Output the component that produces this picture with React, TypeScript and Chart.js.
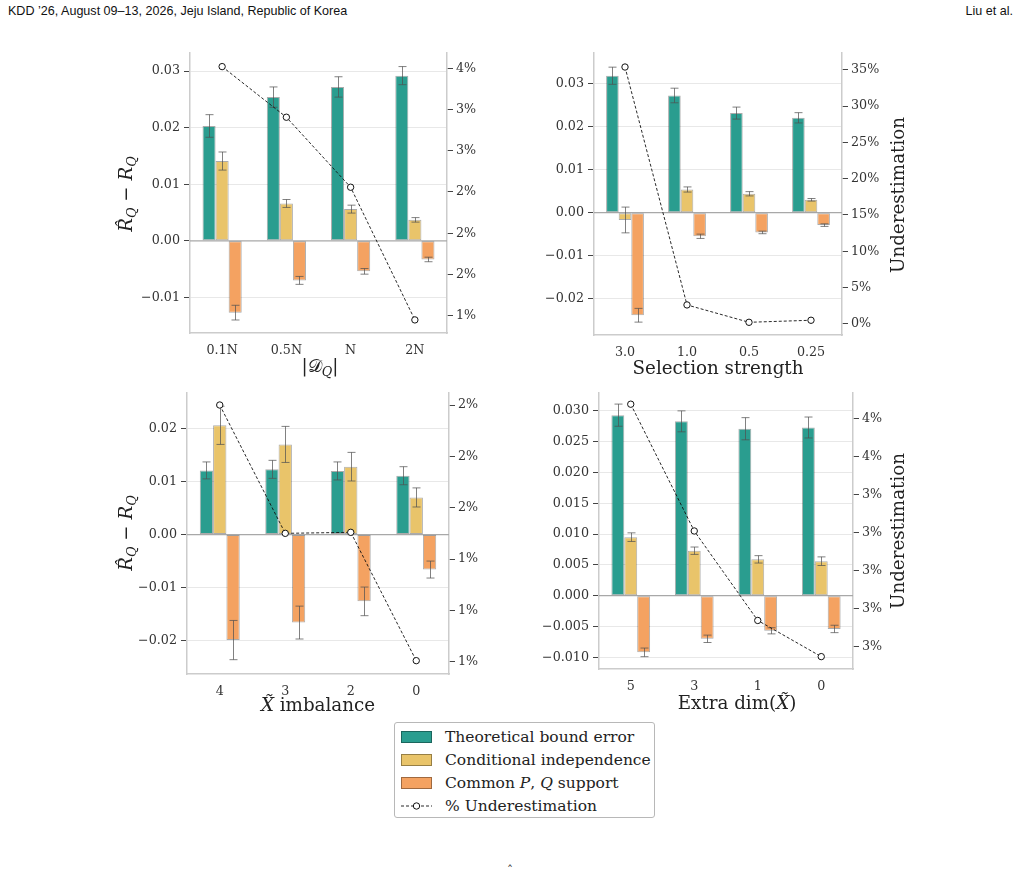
import React, { useEffect, useRef } from "react";
import { Chart, registerables } from "chart.js";

Chart.register(...registerables);

const FONT = "'DejaVu Serif', serif";
const SERIES_NAMES = ["Theoretical bound error", "Conditional independence", "Common P, Q support"];
const SERIES_COLORS = ["#2a9d8f", "#e9c46a", "#f4a261"];

// ---- Panel 1: |D_Q|
const p1Categories = ["0.1N", "0.5N", "N", "2N"];
const p1Theoretical = [0.0203, 0.0254, 0.0272, 0.0292];
const p1TheoreticalErr = [0.002, 0.0018, 0.0018, 0.0016];
const p1CondIndep = [0.0141, 0.0066, 0.0056, 0.0037];
const p1CondIndepErr = [0.0016, 0.0007, 0.0007, 0.0004];
const p1Support = [-0.0127, -0.007, -0.0054, -0.0033];
const p1SupportErr = [0.0013, 0.0007, 0.0005, 0.0004];
const p1Under = [3.616, 3.125, 2.446, 1.159];
const p1LeftTicks = [-0.01, 0, 0.01, 0.02, 0.03];
const p1LeftLabels = ["−0.01", "0.00", "0.01", "0.02", "0.03"];
const p1RightTicks = [1.2, 1.6, 2.0, 2.4, 2.8, 3.2, 3.6];
const p1RightLabels = ["1%", "2%", "2%", "2%", "3%", "3%", "4%"];

// ---- Panel 2: Selection strength
const p2Categories = ["3.0", "1.0", "0.5", "0.25"];
const p2Theoretical = [0.0319, 0.0273, 0.0232, 0.0221];
const p2TheoreticalErr = [0.002, 0.0017, 0.0014, 0.0012];
const p2CondIndep = [-0.0017, 0.0054, 0.0044, 0.003];
const p2CondIndepErr = [0.003, 0.0006, 0.0005, 0.0003];
const p2Support = [-0.0239, -0.0055, -0.0046, -0.0029];
const p2SupportErr = [0.0016, 0.0005, 0.0003, 0.0003];
const p2Under = [35.37, 2.62, 0.23, 0.51];
const p2LeftTicks = [-0.02, -0.01, 0, 0.01, 0.02, 0.03];
const p2LeftLabels = ["−0.02", "−0.01", "0.00", "0.01", "0.02", "0.03"];
const p2RightTicks = [0, 5, 10, 15, 20, 25, 30, 35];
const p2RightLabels = ["0%", "5%", "10%", "15%", "20%", "25%", "30%", "35%"];

// ---- Panel 3: X~ imbalance
const p3Categories = ["4", "3", "2", "0"];
const p3Theoretical = [0.0121, 0.0123, 0.012, 0.0111];
const p3TheoreticalErr = [0.0016, 0.0017, 0.0017, 0.0017];
const p3CondIndep = [0.0206, 0.017, 0.0128, 0.007];
const p3CondIndepErr = [0.0036, 0.0034, 0.0027, 0.0018];
const p3Support = [-0.0199, -0.0166, -0.0126, -0.0066];
const p3SupportErr = [0.0037, 0.0031, 0.0027, 0.0016];
const p3Under = [1.7, 1.45, 1.452, 1.202];
const p3LeftTicks = [-0.02, -0.01, 0, 0.01, 0.02];
const p3LeftLabels = ["−0.02", "−0.01", "0.00", "0.01", "0.02"];
const p3RightTicks = [1.2, 1.3, 1.4, 1.5, 1.6, 1.7];
const p3RightLabels = ["1%", "1%", "1%", "2%", "2%", "2%"];

// ---- Panel 4: Extra dim(X~)
const p4Categories = ["5", "3", "1", "0"];
const p4Theoretical = [0.0293, 0.0283, 0.0271, 0.0273];
const p4TheoreticalErr = [0.0018, 0.0017, 0.0018, 0.0017];
const p4CondIndep = [0.0095, 0.0073, 0.0059, 0.0056];
const p4CondIndepErr = [0.0007, 0.0006, 0.0006, 0.0007];
const p4Support = [-0.0092, -0.007, -0.0057, -0.0054];
const p4SupportErr = [0.0007, 0.0006, 0.0005, 0.0006];
const p4Under = [3.637, 3.304, 3.069, 2.974];
const p4LeftTicks = [-0.01, -0.005, 0, 0.005, 0.01, 0.015, 0.02, 0.025, 0.03];
const p4LeftLabels = ["−0.010", "−0.005", "0.000", "0.005", "0.010", "0.015", "0.020", "0.025", "0.030"];
const p4RightTicks = [3.0, 3.1, 3.2, 3.3, 3.4, 3.5, 3.6];
const p4RightLabels = ["3%", "3%", "3%", "3%", "3%", "4%", "4%"];

type PanelSpec = {
  area: { l: number; t: number; r: number; b: number };
  categories: string[];
  bars: number[][];
  errs: number[][];
  under: number[];
  leftRange: [number, number];
  rightRange: [number, number];
  leftTicks: number[];
  leftLabels: string[];
  rightTicks: number[];
  rightLabels: string[];
};

const PANELS: PanelSpec[] = [
  {
    area: { l: 190, t: 53, r: 447, b: 333 },
    categories: p1Categories,
    bars: [p1Theoretical, p1CondIndep, p1Support],
    errs: [p1TheoreticalErr, p1CondIndepErr, p1SupportErr],
    under: p1Under,
    leftRange: [-0.0163, 0.0332],
    rightRange: [1.032, 3.748],
    leftTicks: p1LeftTicks,
    leftLabels: p1LeftLabels,
    rightTicks: p1RightTicks,
    rightLabels: p1RightLabels,
  },
  {
    area: { l: 594, t: 53, r: 842, b: 335 },
    categories: p2Categories,
    bars: [p2Theoretical, p2CondIndep, p2Support],
    errs: [p2TheoreticalErr, p2CondIndepErr, p2SupportErr],
    under: p2Under,
    leftRange: [-0.0285, 0.0372],
    rightRange: [-1.52, 37.3],
    leftTicks: p2LeftTicks,
    leftLabels: p2LeftLabels,
    rightTicks: p2RightTicks,
    rightLabels: p2RightLabels,
  },
  {
    area: { l: 187, t: 393, r: 449, b: 674 },
    categories: p3Categories,
    bars: [p3Theoretical, p3CondIndep, p3Support],
    errs: [p3TheoreticalErr, p3CondIndepErr, p3SupportErr],
    under: p3Under,
    leftRange: [-0.0263, 0.0267],
    rightRange: [1.176, 1.7234],
    leftTicks: p3LeftTicks,
    leftLabels: p3LeftLabels,
    rightTicks: p3RightTicks,
    rightLabels: p3RightLabels,
  },
  {
    area: { l: 599, t: 393, r: 853, b: 669 },
    categories: p4Categories,
    bars: [p4Theoretical, p4CondIndep, p4Support],
    errs: [p4TheoreticalErr, p4CondIndepErr, p4SupportErr],
    under: p4Under,
    leftRange: [-0.0119, 0.0329],
    rightRange: [2.9415, 3.6664],
    leftTicks: p4LeftTicks,
    leftLabels: p4LeftLabels,
    rightTicks: p4RightTicks,
    rightLabels: p4RightLabels,
  },
];

const LEFT_W = 70;
const RIGHT_W = 60;
const TOP_PAD = 8;
const BOTTOM_H = 30;

const errorBarPlugin = {
  id: "errorBars",
  afterDatasetDraw(chart: any, args: any) {
    const ds = chart.data.datasets[args.index];
    if (!ds.errors) return;
    const meta = args.meta;
    const yScale = chart.scales[meta.yAxisID];
    const ctx = chart.ctx;
    ctx.save();
    ctx.strokeStyle = "rgba(80,80,80,0.72)";
    ctx.lineWidth = 1;
    meta.data.forEach((bar: any, i: number) => {
      const v = ds.data[i];
      const e = ds.errors[i];
      const yTop = yScale.getPixelForValue(v + e);
      const yBot = yScale.getPixelForValue(v - e);
      const x = Math.round(bar.x) + 0.5;
      ctx.beginPath();
      ctx.moveTo(x, yTop);
      ctx.lineTo(x, yBot);
      ctx.moveTo(x - 4, yTop);
      ctx.lineTo(x + 4, yTop);
      ctx.moveTo(x - 4, yBot);
      ctx.lineTo(x + 4, yBot);
      ctx.stroke();
    });
    ctx.restore();
  },
};

const zeroLinePlugin = {
  id: "zeroLine",
  beforeDatasetsDraw(chart: any) {
    const y = chart.scales.y.getPixelForValue(0);
    const { left, right } = chart.chartArea;
    const ctx = chart.ctx;
    ctx.save();
    ctx.strokeStyle = "#a8a8a8";
    ctx.lineWidth = 1.3;
    ctx.beginPath();
    ctx.moveTo(left, y);
    ctx.lineTo(right, y);
    ctx.stroke();
    ctx.restore();
  },
};

function Panel({ spec }: { spec: PanelSpec }) {
  const ref = useRef<HTMLCanvasElement>(null);
  const { l, t, r, b } = spec.area;
  const cw = r - l + LEFT_W + RIGHT_W;
  const ch = b - t + TOP_PAD + BOTTOM_H;
  useEffect(() => {
    const tickFont = { family: FONT, size: 12.7 };
    const chart = new Chart(ref.current as HTMLCanvasElement, {
      type: "bar",
      data: {
        labels: spec.categories,
        datasets: [
          {
            type: "line",
            label: "% Underestimation",
            data: spec.under,
            yAxisID: "y1",
            borderColor: "#111",
            borderWidth: 0.9,
            borderDash: [3, 2],
            pointRadius: 3.2,
            pointBackgroundColor: "#fff",
            pointBorderColor: "#111",
            pointBorderWidth: 1,
            fill: false,
            tension: 0,
            order: 0,
            clip: false,
          } as any,
          ...spec.bars.map((vals, i) => ({
            type: "bar",
            label: SERIES_NAMES[i],
            data: vals,
            errors: spec.errs[i],
            yAxisID: "y",
            backgroundColor: SERIES_COLORS[i],
            borderColor: "rgba(0,0,0,0.33)",
            borderWidth: 1,
            borderSkipped: false,
            barPercentage: 1,
            categoryPercentage: 0.61,
            order: 1,
          })),
        ],
      },
      options: {
        animation: false,
        responsive: false,
        devicePixelRatio: 1,
        layout: { padding: { top: TOP_PAD, left: 0, right: 0, bottom: 0 } },
        plugins: { legend: { display: false }, tooltip: { enabled: false } },
        scales: {
          x: {
            type: "category",
            offset: true,
            grid: { display: false, drawTicks: false },
            border: { display: true, color: "#cccccc", width: 1.5 },
            ticks: { font: tickFont, color: "#333", padding: 10 },
            afterFit: (s: any) => {
              s.height = BOTTOM_H;
              s.paddingLeft = 0;
              s.paddingRight = 0;
            },
          },
          y: {
            type: "linear",
            position: "left",
            min: spec.leftRange[0],
            max: spec.leftRange[1],
            grid: {
              color: (c: any) => (c.tick && Math.abs(c.tick.value) < 1e-12 ? "rgba(0,0,0,0)" : "#e8e8e8"),
              tickColor: "#444",
              tickLength: 6,
              lineWidth: 1,
            },
            border: { display: true, color: "#cccccc", width: 1.5 },
            ticks: {
              font: tickFont,
              color: "#333",
              padding: 4,
              autoSkip: false,
              callback: (_v: any, i: number) => spec.leftLabels[i],
            },
            afterBuildTicks: (s: any) => {
              s.ticks = spec.leftTicks.map((v) => ({ value: v }));
            },
            afterFit: (s: any) => {
              s.width = LEFT_W;
              s.paddingTop = 0;
              s.paddingBottom = 0;
            },
          },
          y1: {
            type: "linear",
            position: "right",
            min: spec.rightRange[0],
            max: spec.rightRange[1],
            grid: { drawOnChartArea: false, tickColor: "#444", tickLength: 6, lineWidth: 1 },
            border: { display: true, color: "#cccccc", width: 1.5 },
            ticks: {
              font: tickFont,
              color: "#333",
              padding: 3,
              autoSkip: false,
              callback: (_v: any, i: number) => spec.rightLabels[i],
            },
            afterBuildTicks: (s: any) => {
              s.ticks = spec.rightTicks.map((v) => ({ value: v }));
            },
            afterFit: (s: any) => {
              s.width = RIGHT_W;
              s.paddingTop = 0;
              s.paddingBottom = 0;
            },
          },
        },
      } as any,
      plugins: [errorBarPlugin, zeroLinePlugin],
    });
    return () => chart.destroy();
  }, []);
  return (
    <canvas
      ref={ref}
      width={cw}
      height={ch}
      style={{ position: "absolute", left: l - LEFT_W, top: t - TOP_PAD, width: cw, height: ch }}
    />
  );
}

const subStyle: React.CSSProperties = { fontSize: "70%", fontStyle: "italic", verticalAlign: "-0.3em" };

function Title({ x, y, rotate, children, size = 18.3 }: any) {
  return (
    <div
      style={{
        position: "absolute",
        left: x,
        top: y,
        transform: `translate(-50%, -50%)${rotate ? " rotate(-90deg)" : ""}`,
        fontFamily: FONT,
        fontSize: size,
        color: "#222",
        whiteSpace: "nowrap",
        lineHeight: 1,
      }}
    >
      {children}
    </div>
  );
}

const RDiff = () => (
  <span>
    <i>R̂</i>
    <span style={subStyle}>Q</span> − <i>R</i>
    <span style={subStyle}>Q</span>
  </span>
);

function Legend() {
  const row: React.CSSProperties = { display: "flex", alignItems: "center", height: 23 };
  const patch = (c: string): React.CSSProperties => ({
    width: 29,
    height: 10,
    background: c,
    border: "1px solid rgba(0,0,0,0.35)",
    marginRight: 13,
    flex: "none",
  });
  return (
    <div
      style={{
        position: "absolute",
        left: 394,
        top: 722,
        width: 261,
        height: 96,
        border: "1px solid #b8b8b8",
        borderRadius: 3,
        background: "#fff",
        fontFamily: FONT,
        fontSize: 15.5,
        color: "#222",
        padding: "2px 0 0 6px",
        boxSizing: "border-box",
      }}
    >
      <div style={row}>
        <div style={patch(SERIES_COLORS[0])} />
        <span>{SERIES_NAMES[0]}</span>
      </div>
      <div style={row}>
        <div style={patch(SERIES_COLORS[1])} />
        <span>{SERIES_NAMES[1]}</span>
      </div>
      <div style={row}>
        <div style={patch(SERIES_COLORS[2])} />
        <span>
          Common <i>P</i>, <i>Q</i> support
        </span>
      </div>
      <div style={row}>
        <svg width={31} height={12} style={{ marginRight: 13, flex: "none" }}>
          <line x1={0} y1={6} x2={31} y2={6} stroke="#111" strokeWidth={0.9} strokeDasharray="3 2" />
          <circle cx={15.5} cy={6} r={3.2} fill="#fff" stroke="#111" strokeWidth={1} />
        </svg>
        <span>% Underestimation</span>
      </div>
    </div>
  );
}

const headerStyle: React.CSSProperties = {
  position: "absolute",
  top: 3,
  fontFamily: "'Liberation Sans', sans-serif",
  fontSize: 13.5,
  color: "#111",
  whiteSpace: "nowrap",
  display: "inline-block",
};

export default function App() {
  return (
    <div style={{ position: "absolute", left: 0, top: 0, width: 1020, height: 871, background: "#fff", overflow: "hidden" }}>
      <div style={{ ...headerStyle, left: 8, transform: "scaleX(0.93)", transformOrigin: "left center" }}>
        KDD ’26, August 09–13, 2026, Jeju Island, Republic of Korea
      </div>
      <div style={{ ...headerStyle, right: 7, transform: "scaleX(0.93)", transformOrigin: "right center" }}>
        Liu et al.
      </div>
      {PANELS.map((p, i) => (
        <Panel key={i} spec={p} />
      ))}
      <Title x={128} y={194} rotate>
        <RDiff />
      </Title>
      <Title x={128} y={533} rotate>
        <RDiff />
      </Title>
      <Title x={320} y={368}>
        |𝒟<span style={subStyle}>Q</span>|
      </Title>
      <Title x={718} y={368}>Selection strength</Title>
      <Title x={898} y={195} rotate>
        Underestimation
      </Title>
      <Title x={318} y={705}>
        <i>X̃</i> imbalance
      </Title>
      <Title x={737} y={703}>
        Extra dim(<i>X̃</i>)
      </Title>
      <Title x={898} y={531} rotate>
        Underestimation
      </Title>
      <Legend />
      <div style={{ position: "absolute", left: 507, top: 864, fontFamily: FONT, fontSize: 12, color: "#333" }}>ˆ</div>
    </div>
  );
}
